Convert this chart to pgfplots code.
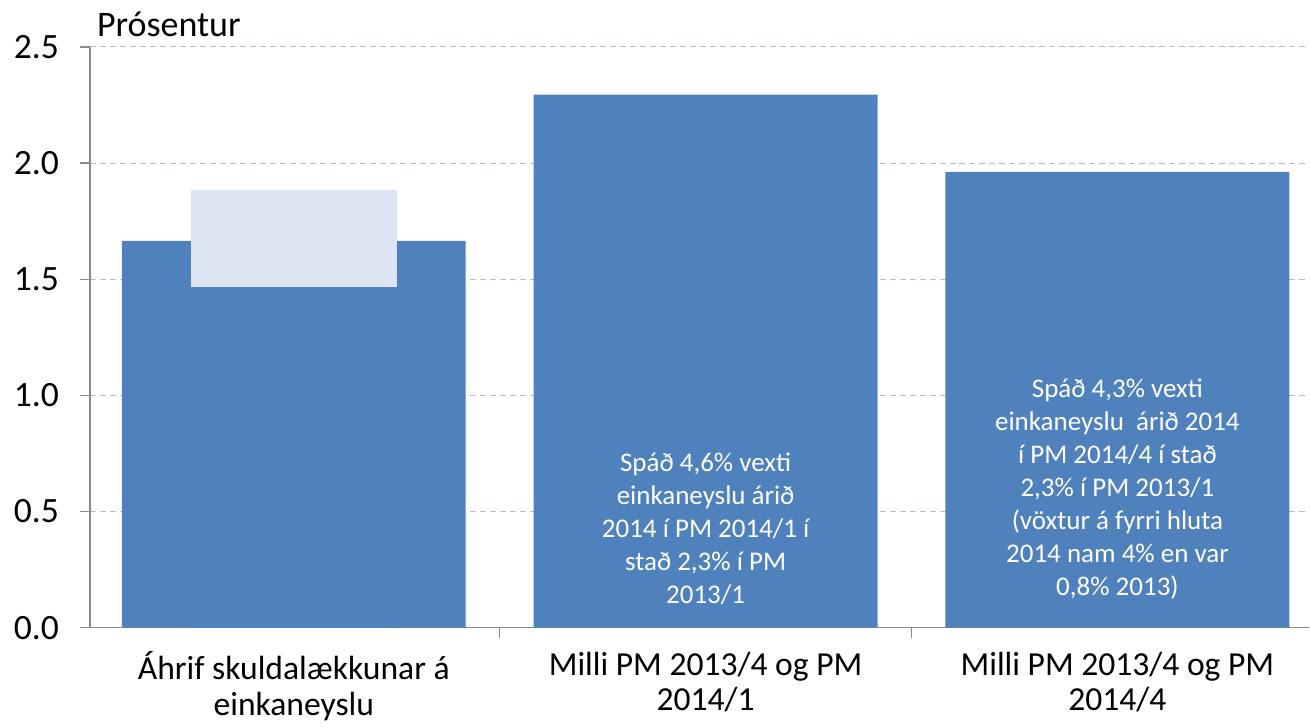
\documentclass[border=0pt]{standalone}
\usepackage{fontspec}
\setmainfont{Carlito}
\usepackage{pgfplots}
\pgfplotsset{compat=1.18}
\definecolor{barblue}{HTML}{4F81BD}
\definecolor{lightbox}{HTML}{DCE6F2}
\definecolor{gridc}{HTML}{A9BEDB}
\definecolor{axisc}{HTML}{898989}
\begin{document}
\begin{tikzpicture}
\begin{axis}[
  scale only axis, width=610pt, height=290.5pt,
  xmin=-0.495, xmax=2.466, ymin=0, ymax=2.5,
  axis x line*=bottom, axis y line*=left,
  axis line style={draw=axisc, line width=0.7pt},
  tick align=outside,
  major tick length=5pt, minor tick length=5pt,
  ytick={0,0.5,1,1.5,2,2.5},
  yticklabel style={font=\fontsize{17.8}{19}\selectfont, xshift=-7pt, /pgf/number format/.cd, fixed, fixed zerofill, precision=1, assume math mode=true},
  ytick style={draw=axisc, line width=0.7pt},
  ymajorgrids, grid style={gridc, line width=0.5pt, dash pattern=on 3pt off 2pt},
  xtick={0,1,2},
  xticklabels={{Áhrif skuldalækkunar á\\einkaneyslu},{Milli PM 2013/4 og PM\\2014/1},{Milli PM 2013/4 og PM\\2014/4}},
  x tick label style={align=center, font=\fontsize{16.8}{17.8}\selectfont, yshift=-3.5pt},
  major x tick style={draw=none},
  minor xtick={0.5,1.5},
  minor x tick style={draw=axisc, line width=0.7pt},
  clip=false,
]
\addplot[ybar, bar width=0.835, bar shift=0pt, fill=barblue, draw=none] coordinates {(0,1.665) (1,2.295) (2,1.962)};
\addplot[ybar, bar width=0.5, bar shift=0pt, fill=lightbox, draw=none] coordinates {(0,1.885)};
\addplot[ybar, bar width=0.5, bar shift=0pt, fill=barblue, draw=none] coordinates {(0,1.465)};
\node[align=center, text=white, font=\fontsize{13.5}{16.5}\selectfont] at (axis cs:1,0.426)
  {Spáð 4,6\% vexti\\einkaneyslu árið\\2014 í PM 2014/1 í\\stað 2,3\% í PM\\2013/1};
\node[align=center, text=white, font=\fontsize{13.5}{16.5}\selectfont] at (axis cs:2,0.598)
  {Spáð 4,3\% vexti\\einkaneyslu \ árið 2014\\í PM 2014/4 í stað\\2,3\% í PM 2013/1\\(vöxtur á fyrri hluta\\2014 nam 4\% en var\\0,8\% 2013)};
\node[anchor=base west, font=\fontsize{18}{20}\selectfont] at ([xshift=0pt,yshift=5pt]rel axis cs:0,1) {Prósentur};
\end{axis}
\path ([xshift=-45pt,yshift=-48pt]current axis.south west) rectangle ([yshift=23.5pt]current axis.north east);
\end{tikzpicture}
\end{document}
